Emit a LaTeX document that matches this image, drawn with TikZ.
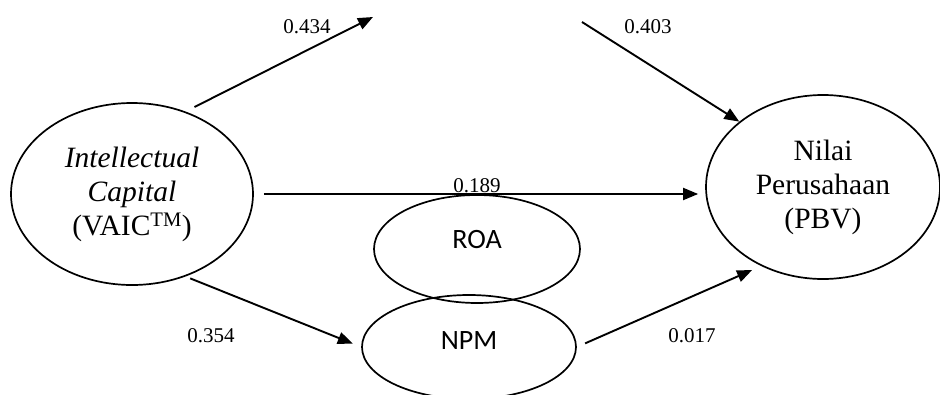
\documentclass[tikz,border=0pt]{standalone}
\usepackage{fontspec}
\setmainfont{Liberation Serif}
\newfontfamily\calib{Carlito}
\usetikzlibrary{shapes.geometric,arrows.meta}
\begin{document}
\begin{tikzpicture}[x=1pt,y=-1pt,
  oval/.style={draw=black,ellipse,line width=1.7pt,inner sep=0pt,align=center},
  mainoval/.style={oval,font=\fontsize{29.5}{34}\selectfont},
  smalloval/.style={oval,font=\calib\fontsize{28}{32}\selectfont},
  coef/.style={font=\fontsize{21}{24}\selectfont,inner sep=0pt},
  arr/.style={line width=1.9pt,-{Triangle[length=15pt,width=12pt]}}]
\useasboundingbox (0,0) rectangle (940,394);
\node[mainoval,minimum width=242pt,minimum height=182pt] (IC) at (132,194)
  {\textit{Intellectual}\\\textit{Capital}\\(VAIC\textsuperscript{TM})};
\node[mainoval,minimum width=234pt,minimum height=184pt] (PBV) at (823,187)
  {Nilai\\Perusahaan\\(PBV)};
\node[smalloval,minimum width=206pt,minimum height=108pt] (ROA) at (477,249) {};
\node[font=\calib\fontsize{28}{32}\selectfont,inner sep=0pt] (ROAt) at (477,240) {ROA};
\node[smalloval,minimum width=214pt,minimum height=104pt] (NPM) at (469,347) {};
\node[font=\calib\fontsize{28}{32}\selectfont,inner sep=0pt] (NPMt) at (469,341) {NPM};
\coordinate (a1) at (373,17);
\coordinate (a2) at (582,22);
\draw[arr,shorten <=10pt] (IC.57) -- (a1);
\draw[arr] (a2) -- (PBV.142);
\draw[arr,shorten <=10pt,shorten >=7pt] (IC.east) -- (IC.east -| PBV.west);
\draw[arr,shorten <=5pt,shorten >=9pt] (IC.-57) -- (NPM.west);
\draw[arr,shorten <=9pt,shorten >=10pt] (NPM.east) -- (PBV.232);
\node[coef] (c1) at (307,27) {0.434};
\node[coef] (c2) at (648,27) {0.403};
\node[coef] (c3) at (477,186) {0.189};
\node[coef] (c4) at (211,336) {0.354};
\node[coef] (c5) at (692,336) {0.017};
\end{tikzpicture}
\end{document}
